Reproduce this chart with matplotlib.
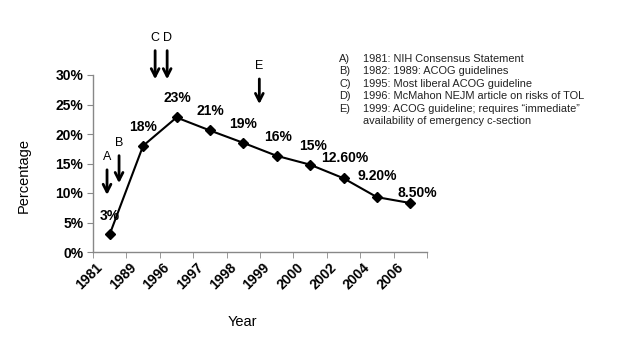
import matplotlib
matplotlib.use("Agg")
import matplotlib.pyplot as plt
import numpy as np

plt.rcParams['font.family'] = ['Liberation Sans', 'DejaVu Sans']

# data
years = ['1981', '1989', '1996', '1997', '1998', '1999', '2000', '2002', '2004', '2006']
rates = [3.0, 18.0, 22.8, 20.6, 18.5, 16.3, 14.8, 12.5, 9.3, 8.3]
rate_labels = ['3%', '18%', '23%', '21%', '19%', '16%', '15%', '12.60%', '9.20%', '8.50%']

# events: letter, x position (category units), arrow top, arrow bottom (percent)
event_letters = ['A', 'B', 'C', 'D', 'E']
event_x = [-0.08, 0.28, 1.36, 1.72, 4.48]
event_top = [14.4, 16.8, 34.6, 34.6, 29.8]
event_bottom = [9.2, 11.2, 28.8, 28.8, 24.6]

notes = [
    ('A)', '1981: NIH Consensus Statement'),
    ('B)', '1982: 1989: ACOG guidelines'),
    ('C)', '1995: Most liberal ACOG guideline'),
    ('D)', '1996: McMahon NEJM article on risks of TOL'),
    ('E)', '1999: ACOG guideline; requires \u201cimmediate\u201d'),
    ('', 'availability of emergency c-section'),
]

fig = plt.figure(figsize=(6.17, 3.51), dpi=100)
ax = fig.add_axes([93 / 617, 1 - 252 / 351, (427 - 93) / 617, (252 - 75) / 351])

x = np.arange(len(years))
ax.plot(x, rates, color='black', lw=1.5, marker='D', markersize=5, zorder=3)

# label offsets in pixels (dx, dy)
offsets = [(0, 18), (0, 19), (1, 19), (0, 19), (0, 19), (1, 19), (3, 19),
           (1, 20), (0, 21), (7, 10)]
for xi, yi, lab, (dx, dy) in zip(x, rates, rate_labels, offsets):
    ax.annotate(lab, (xi, yi), xytext=(dx * 0.72, dy * 0.72), textcoords='offset points',
                ha='center', va='center', fontsize=10, fontweight='bold')

for lt, ex, et, eb in zip(event_letters, event_x, event_top, event_bottom):
    ax.annotate('', xy=(ex, eb), xytext=(ex, et),
                arrowprops=dict(arrowstyle='->,head_length=0.55,head_width=0.28',
                                color='black', lw=2),
                annotation_clip=False)
    ax.text(ex, et + 1.7, lt, ha='center', va='center', fontsize=9, clip_on=False)

ax.set_xlim(-0.5, len(years) - 0.5)
ax.set_ylim(0, 30)
ax.set_yticks(np.arange(0, 31, 5))
ax.set_yticklabels([f'{v}%' for v in range(0, 31, 5)], fontweight='bold', fontsize=10)
# year labels sit a bit left of the category centre, as in the original
ax.set_xticks(x - 0.42)
ax.set_xticklabels(years, rotation=45, ha='right', rotation_mode='anchor',
                   fontweight='bold', fontsize=10)
ax.set_xticks(np.arange(-0.5, len(years), 1), minor=True)
ax.tick_params(axis='x', which='major', length=0, pad=6)
ax.tick_params(axis='x', which='minor', length=4, color='#888888', direction='out')
ax.tick_params(axis='y', length=4, color='#888888', direction='out', pad=3)

for s in ['top', 'right']:
    ax.spines[s].set_visible(False)
for s in ['left', 'bottom']:
    ax.spines[s].set_color('#888888')
    ax.spines[s].set_linewidth(1)

fig.text(24 / 617, 1 - 175 / 351, 'Percentage', rotation=90, ha='center', va='center', fontsize=10.5)
fig.text(242 / 617, 1 - 322 / 351, 'Year', ha='center', va='center', fontsize=10.5)

for i, (a, t) in enumerate(notes):
    yy = 1 - (59 + i * 12.4) / 351
    if a:
        fig.text(339 / 617, yy, a, ha='left', va='center', fontsize=7.9, color='#222222')
    fig.text(363 / 617, yy, t, ha='left', va='center', fontsize=7.9, color='#222222')

fig.savefig('out.png', dpi=100)
